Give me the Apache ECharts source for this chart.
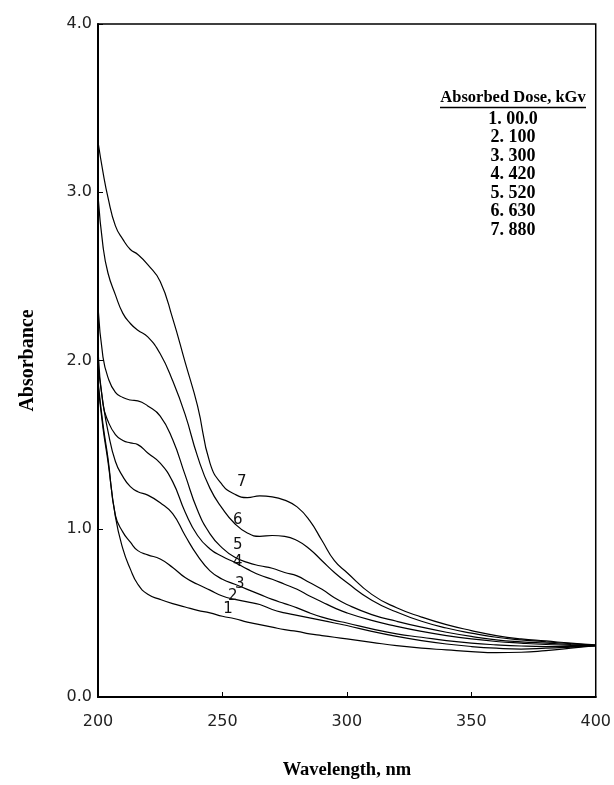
<!DOCTYPE html>
<html><head><meta charset="utf-8">
<script src="https://cdn.jsdelivr.net/npm/echarts@6/dist/echarts.min.js"></script>
<style>html,body{margin:0;padding:0;background:#fff}#c{width:614px;height:785px}</style>
</head><body><div id="c"></div>
<script>
// Wavelength (nm)
const wavelength = [200,202,204,207,210,213,216,220,225,230,235,240,245,250,255,260,265,270,275,280,285,290,295,300,310,320,330,340,350,360,370,380,390,400];

// Absorbance for each dose
const curve1 = [1.86,1.60,1.40,1.07,0.88,0.76,0.67,0.61,0.58,0.555,0.535,0.515,0.50,0.48,0.465,0.445,0.43,0.415,0.40,0.39,0.375,0.365,0.355,0.345,0.325,0.305,0.29,0.28,0.27,0.264,0.266,0.276,0.29,0.305];
const curve2 = [1.88,1.62,1.42,1.08,0.98,0.92,0.87,0.845,0.82,0.77,0.71,0.67,0.635,0.60,0.58,0.565,0.55,0.52,0.50,0.485,0.47,0.455,0.44,0.425,0.39,0.36,0.335,0.315,0.30,0.29,0.285,0.29,0.297,0.305];
const curve3 = [1.97,1.75,1.58,1.40,1.31,1.25,1.22,1.20,1.155,1.09,0.96,0.84,0.75,0.70,0.67,0.64,0.61,0.58,0.555,0.53,0.50,0.475,0.455,0.44,0.405,0.375,0.355,0.335,0.32,0.31,0.303,0.30,0.30,0.305];
const curve4 = [2.06,1.74,1.64,1.56,1.525,1.51,1.50,1.45,1.39,1.28,1.10,0.96,0.88,0.835,0.80,0.76,0.725,0.70,0.67,0.64,0.60,0.565,0.53,0.50,0.455,0.42,0.39,0.365,0.345,0.33,0.32,0.312,0.307,0.305];
const curve5 = [2.32,2.02,1.90,1.81,1.78,1.765,1.76,1.73,1.67,1.53,1.32,1.11,0.97,0.885,0.83,0.80,0.78,0.765,0.74,0.72,0.68,0.64,0.59,0.55,0.49,0.45,0.415,0.385,0.36,0.34,0.328,0.32,0.312,0.305];
const curve6 = [2.98,2.68,2.52,2.39,2.28,2.22,2.18,2.14,2.04,1.88,1.68,1.43,1.24,1.12,1.03,0.975,0.955,0.96,0.955,0.93,0.88,0.81,0.74,0.68,0.575,0.505,0.45,0.41,0.38,0.355,0.34,0.328,0.317,0.307];
const curve7 = [3.30,3.12,2.97,2.80,2.72,2.66,2.63,2.57,2.47,2.25,1.99,1.73,1.39,1.26,1.205,1.185,1.195,1.19,1.17,1.13,1.05,0.93,0.81,0.74,0.61,0.53,0.475,0.43,0.395,0.365,0.345,0.333,0.32,0.31];

const curves = [curve1, curve2, curve3, curve4, curve5, curve6, curve7];
const curveNames = ['1','2','3','4','5','6','7'];
// in-plot curve number positions (wavelength, absorbance)
const labelWl  = [252.2, 254.2, 257.0, 256.2, 256.2, 256.2, 257.8];
const labelAbs = [0.52, 0.60, 0.67, 0.80, 0.90, 1.05, 1.28];

// legend text
const legendTitle = 'Absorbed Dose, kGv';
const legendItems = ['1. 00.0','2. 100','3. 300','4. 420','5. 520','6. 630','7. 880'];

const xTicks = [200,250,300,350,400];
const yTicks = [0,1,2,3,4];

const chart = echarts.init(document.getElementById('c'), null, {renderer:'canvas'});

const series = curves.map((vals, i) => ({
  name: curveNames[i],
  type: 'line',
  data: wavelength.map((w, j) => [w, vals[j]]),
  smooth: 0.5,
  showSymbol: false,
  lineStyle: {color: '#000', width: 1.2},
  silent: true,
  markPoint: {
    symbol: 'circle', symbolSize: 0,
    label: {show: true, formatter: curveNames[i], color: '#111', fontSize: 15, fontFamily: 'DejaVu Sans', position: 'inside'},
    data: [{coord: [labelWl[i], labelAbs[i]]}]
  }
}));

const titleFont = 'bold 16.5px "Liberation Serif"';
const itemFont = 'bold 18px "Liberation Serif"';
const legendGraphics = [
  {type:'text', style:{text: legendTitle, x: 513, y: 98, textAlign:'center', textVerticalAlign:'middle', font: titleFont, fill:'#000'}},
  {type:'line', shape:{x1: 440, y1: 107.5, x2: 586, y2: 107.5}, style:{stroke:'#000', lineWidth:1.4}}
].concat(legendItems.map((t, i) => ({
  type:'text', style:{text: t, x: 513, y: 119 + i*18.5, textAlign:'center', textVerticalAlign:'middle', font: itemFont, fill:'#000'}
})));

chart.setOption({
  animation: false,
  backgroundColor: '#fff',
  grid: {left: 98, right: 18, top: 24, bottom: 80, show: true, borderColor: '#000', borderWidth: 1.5, backgroundColor: 'transparent'},
  xAxis: {
    type: 'value', min: xTicks[0], max: xTicks[xTicks.length-1], interval: 50,
    axisLine: {show: true, lineStyle: {color: '#000', width: 2}},
    axisTick: {show: true, inside: true, length: 5, lineStyle: {color: '#000'}},
    axisLabel: {color: '#222', fontSize: 16, fontFamily: 'DejaVu Sans', margin: 17},
    splitLine: {show: false},
    name: 'Wavelength, nm', nameLocation: 'middle', nameGap: 64,
    nameTextStyle: {color: '#000', fontSize: 18.5, fontWeight: 'bold', fontFamily: 'Liberation Serif'}
  },
  yAxis: {
    type: 'value', min: yTicks[0], max: yTicks[yTicks.length-1], interval: 1,
    axisLine: {show: true, lineStyle: {color: '#000', width: 2}},
    axisTick: {show: true, inside: true, length: 5, lineStyle: {color: '#000'}},
    axisLabel: {color: '#222', fontSize: 16, fontFamily: 'DejaVu Sans', margin: 6, padding: [0,0,8,0], formatter: v => v.toFixed(1)},
    splitLine: {show: false},
    name: 'Absorbance', nameLocation: 'middle', nameGap: 60, nameRotate: 90,
    nameTextStyle: {color: '#000', fontSize: 20, fontWeight: 'bold', fontFamily: 'Liberation Serif'}
  },
  graphic: legendGraphics,
  series: series
});
</script>
</body></html>
